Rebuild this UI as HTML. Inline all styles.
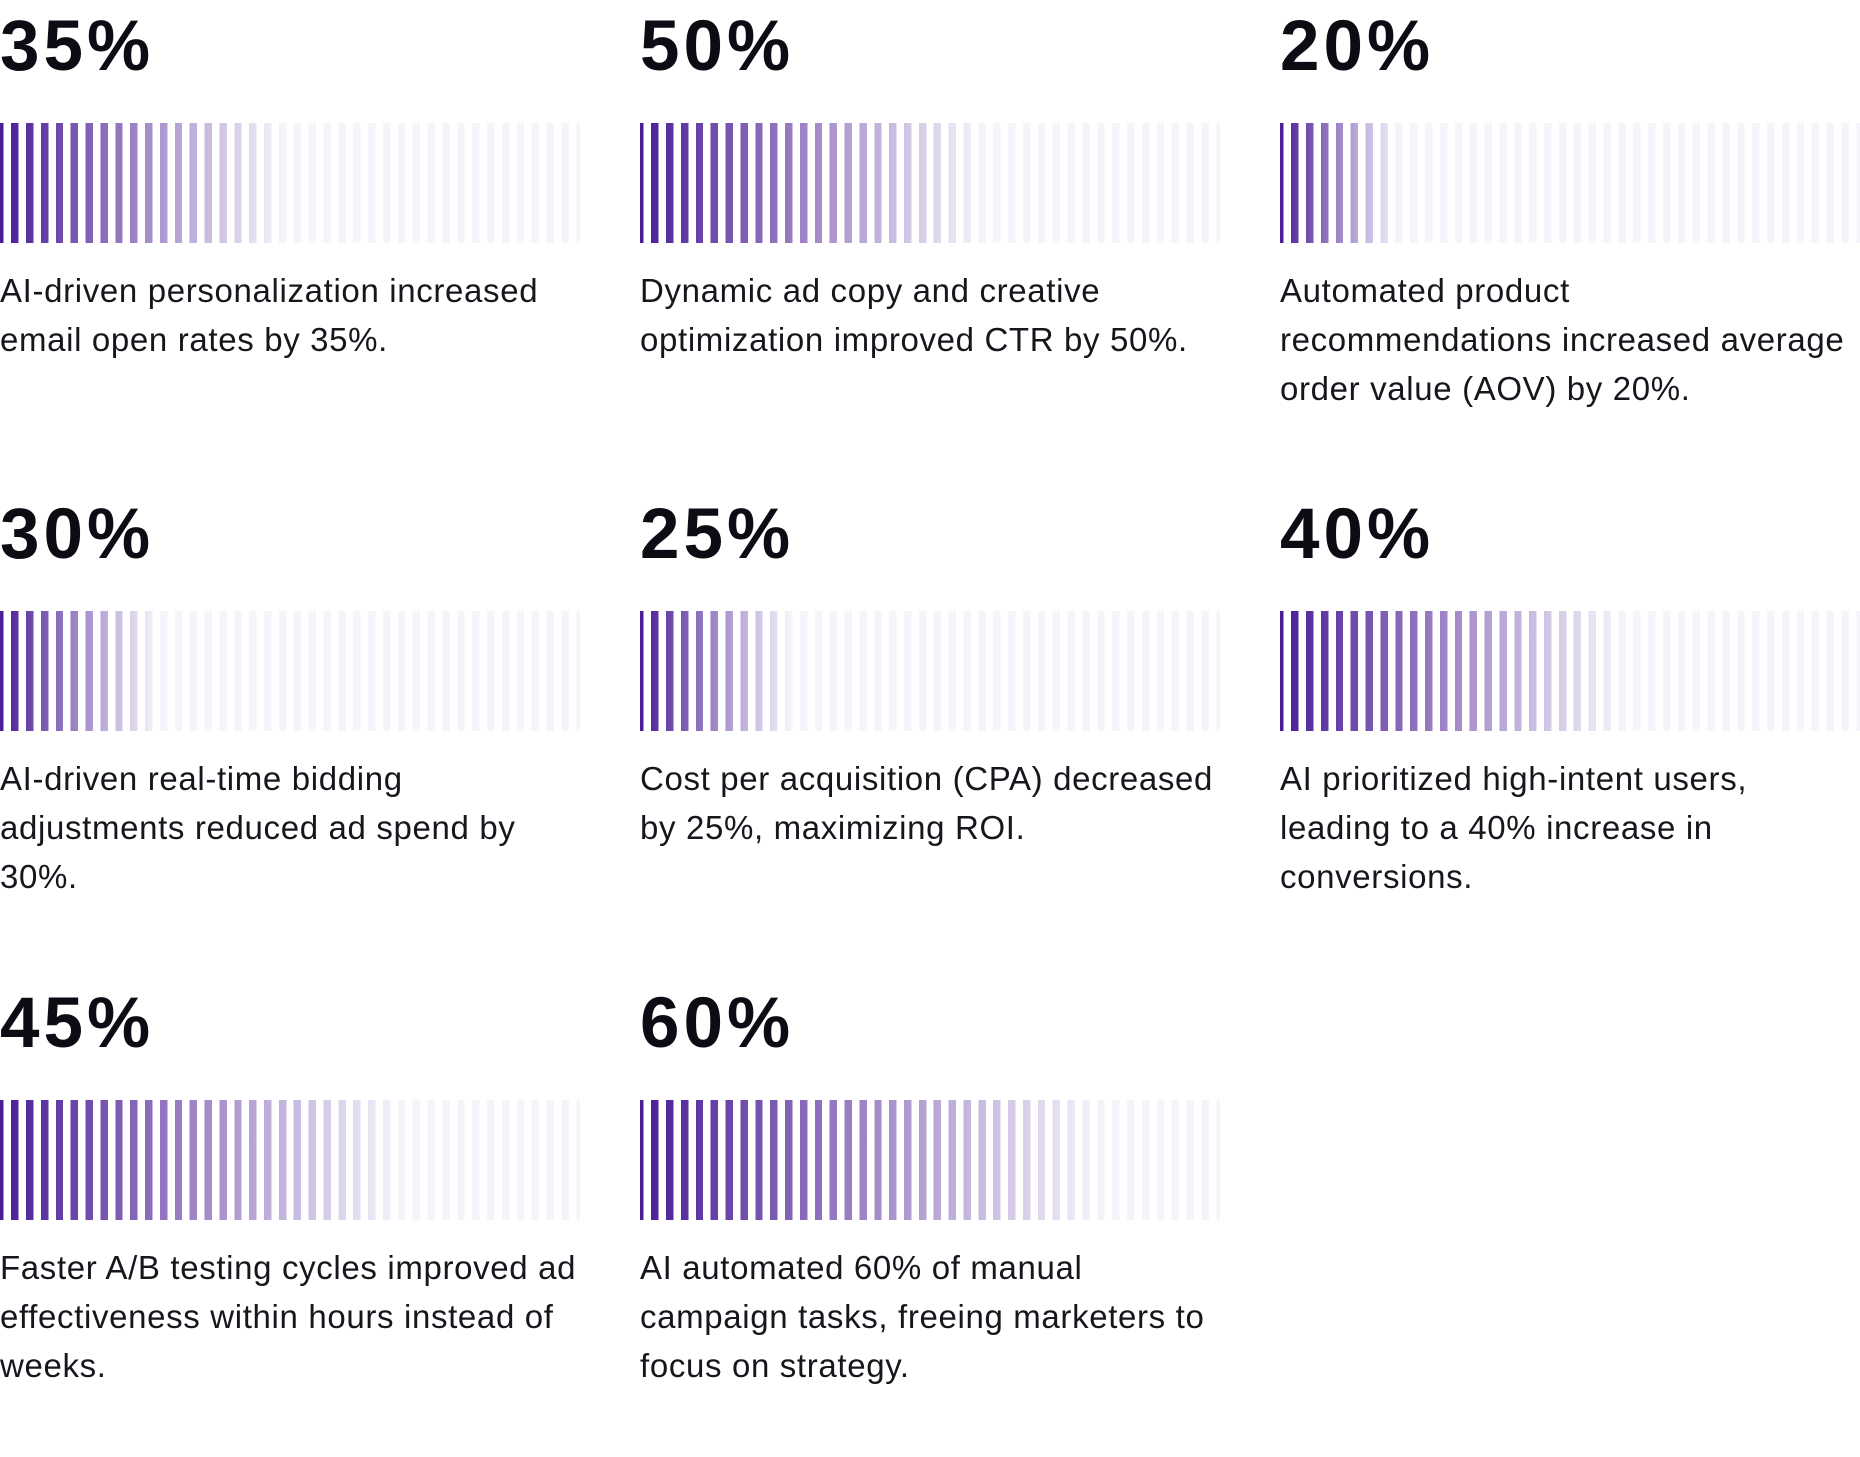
<!DOCTYPE html>
<html>
<head>
<meta charset="utf-8">
<style>
  html, body { margin: 0; padding: 0; }
  body { width: 1860px; height: 1392px; background: #ffffff; position: relative; overflow: hidden;
         font-family: "Liberation Sans", "DejaVu Sans", sans-serif; }
  .card { position: absolute; width: 580px; height: 480px; }
  .num { position: absolute; left: 0; top: 10.6px; font-size: 71px; line-height: 71px; font-weight: 700;
         color: #0c0c14; letter-spacing: 4px; white-space: nowrap; }
  .bar { position: absolute; left: 0; top: 122.7px; width: 580px; height: 120px; }
  .desc { position: absolute; left: 0; top: 265.8px; font-size: 33px; line-height: 49px; color: #16161d;
          letter-spacing: 0.65px; white-space: nowrap; }
</style>
</head>
<body>

<!-- Row 1 -->
<div class="card" style="left:0px; top:0px;">
  <div class="num">35%</div>
  <div class="bar" style="background: repeating-linear-gradient(to right, transparent 0px, transparent 3.7px, #fff 3.7px, #fff 11.17px, transparent 11.17px, transparent 14.872px), linear-gradient(to right, #4a1d95 0%, #f6f4fa 48.7%, #f6f4fa 100%);"></div>
  <div class="desc">AI-driven personalization increased<br>email open rates by 35%.</div>
</div>

<div class="card" style="left:640px; top:0px;">
  <div class="num">50%</div>
  <div class="bar" style="background: repeating-linear-gradient(to right, transparent 0px, transparent 3.7px, #fff 3.7px, #fff 11.17px, transparent 11.17px, transparent 14.872px), linear-gradient(to right, #4a1d95 0%, #f6f4fa 59%, #f6f4fa 100%);"></div>
  <div class="desc">Dynamic ad copy and creative<br>optimization improved CTR by 50%.</div>
</div>

<div class="card" style="left:1280px; top:0px;">
  <div class="num">20%</div>
  <div class="bar" style="background: repeating-linear-gradient(to right, transparent 0px, transparent 3.7px, #fff 3.7px, #fff 11.17px, transparent 11.17px, transparent 14.872px), linear-gradient(to right, #4a1d95 0%, #f6f4fa 20.5%, #f6f4fa 100%);"></div>
  <div class="desc">Automated product<br>recommendations increased average<br>order value (AOV) by 20%.</div>
</div>

<!-- Row 2 -->
<div class="card" style="left:0px; top:488.7px;">
  <div class="num">30%</div>
  <div class="bar" style="background: repeating-linear-gradient(to right, transparent 0px, transparent 3.7px, #fff 3.7px, #fff 11.17px, transparent 11.17px, transparent 14.872px), linear-gradient(to right, #4a1d95 0%, #f6f4fa 27%, #f6f4fa 100%);"></div>
  <div class="desc">AI-driven real-time bidding<br>adjustments reduced ad spend by<br>30%.</div>
</div>

<div class="card" style="left:640px; top:488.7px;">
  <div class="num">25%</div>
  <div class="bar" style="background: repeating-linear-gradient(to right, transparent 0px, transparent 3.7px, #fff 3.7px, #fff 11.17px, transparent 11.17px, transparent 14.872px), linear-gradient(to right, #4a1d95 0%, #f6f4fa 26%, #f6f4fa 100%);"></div>
  <div class="desc">Cost per acquisition (CPA) decreased<br>by 25%, maximizing ROI.</div>
</div>

<div class="card" style="left:1280px; top:488.7px;">
  <div class="num">40%</div>
  <div class="bar" style="background: repeating-linear-gradient(to right, transparent 0px, transparent 3.7px, #fff 3.7px, #fff 11.17px, transparent 11.17px, transparent 14.872px), linear-gradient(to right, #4a1d95 0%, #f6f4fa 59%, #f6f4fa 100%);"></div>
  <div class="desc">AI prioritized high-intent users,<br>leading to a 40% increase in<br>conversions.</div>
</div>

<!-- Row 3 -->
<div class="card" style="left:0px; top:977.4px;">
  <div class="num">45%</div>
  <div class="bar" style="background: repeating-linear-gradient(to right, transparent 0px, transparent 3.7px, #fff 3.7px, #fff 11.17px, transparent 11.17px, transparent 14.872px), linear-gradient(to right, #4a1d95 0%, #f6f4fa 69%, #f6f4fa 100%);"></div>
  <div class="desc">Faster A/B testing cycles improved ad<br>effectiveness within hours instead of<br>weeks.</div>
</div>

<div class="card" style="left:640px; top:977.4px;">
  <div class="num">60%</div>
  <div class="bar" style="background: repeating-linear-gradient(to right, transparent 0px, transparent 3.7px, #fff 3.7px, #fff 11.17px, transparent 11.17px, transparent 14.872px), linear-gradient(to right, #4a1d95 0%, #f6f4fa 79.5%, #f6f4fa 100%);"></div>
  <div class="desc">AI automated 60% of manual<br>campaign tasks, freeing marketers to<br>focus on strategy.</div>
</div>

</body>
</html>
